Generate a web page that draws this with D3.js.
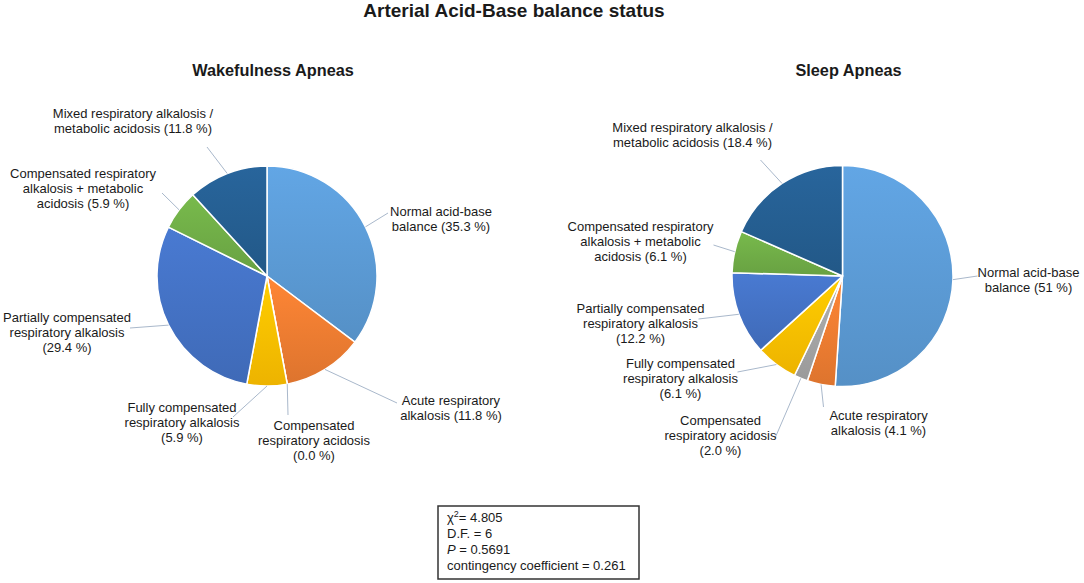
<!DOCTYPE html>
<html>
<head>
<meta charset="utf-8">
<script src="https://cdn.jsdelivr.net/npm/d3@7"></script>
<style>
  body { margin: 0; background: #fff; }
  svg text { font-family: "Liberation Sans", Arial, sans-serif; fill: #1a1a1a; }
</style>
</head>
<body>
<svg id="chart" width="1084" height="583"></svg>
<script>
// categories, clockwise from 12 o'clock
const categories = [
  'Normal acid-base balance',
  'Acute respiratory alkalosis',
  'Compensated respiratory acidosis',
  'Fully compensated respiratory alkalosis',
  'Partially compensated respiratory alkalosis',
  'Compensated respiratory alkalosis + metabolic acidosis',
  'Mixed respiratory alkalosis / metabolic acidosis'
];
const wakeValues = [35.3, 11.8, 0.0, 5.9, 29.4, 5.9, 11.8];
const sleepValues = [51, 4.1, 2.0, 6.1, 12.2, 6.1, 18.4];
const colors = ['#5b9bd5', '#ed7d31', '#a5a5a5', '#ffc000', '#4472c4', '#70ad47', '#255e91'];
const statLines = ['χ', 'D.F. = 6', 'P = 0.5691', 'contingency coefficient = 0.261'];

// label layout: text lines, first-baseline offset and leader end, relative to pie centre
const wakeLabels = [
  { lines: ['Normal acid-base', 'balance (35.3 %)'], dx: 174, dy: -60, lx: 121, ly: -63 },
  { lines: ['Acute respiratory', 'alkalosis (11.8 %)'], dx: 184, dy: 129, lx: 130, ly: 127 },
  { lines: ['Compensated', 'respiratory acidosis', '(0.0 %)'], dx: 47, dy: 154, lx: 21, ly: 139 },
  { lines: ['Fully compensated', 'respiratory alkalosis', '(5.9 %)'], dx: -85, dy: 136, lx: -34, ly: 141 },
  { lines: ['Partially compensated', 'respiratory alkalosis', '(29.4 %)'], dx: -200, dy: 46, lx: -137, ly: 52 },
  { lines: ['Compensated respiratory', 'alkalosis + metabolic', 'acidosis (5.9 %)'], dx: -184, dy: -98, lx: -105, ly: -83 },
  { lines: ['Mixed respiratory alkalosis /', 'metabolic acidosis (11.8 %)'], dx: -134, dy: -158, lx: -60, ly: -129 }
];
const sleepLabels = [
  { lines: ['Normal acid-base', 'balance (51 %)'], dx: 186, dy: 1, lx: 135, ly: 0 },
  { lines: ['Acute respiratory', 'alkalosis (4.1 %)'], dx: 36, dy: 144, lx: -19, ly: 131 },
  { lines: ['Compensated', 'respiratory acidosis', '(2.0 %)'], dx: -122, dy: 149, lx: -67, ly: 161 },
  { lines: ['Fully compensated', 'respiratory alkalosis', '(6.1 %)'], dx: -162, dy: 92, lx: -105, ly: 96 },
  { lines: ['Partially compensated', 'respiratory alkalosis', '(12.2 %)'], dx: -202, dy: 37, lx: -144, ly: 43 },
  { lines: ['Compensated respiratory', 'alkalosis + metabolic', 'acidosis (6.1 %)'], dx: -202, dy: -45, lx: -129, ly: -31 },
  { lines: ['Mixed respiratory alkalosis /', 'metabolic acidosis (18.4 %)'], dx: -150, dy: -144, lx: -82, ly: -116 }
];

const svg = d3.select('#chart');
const defs = svg.append('defs');

// vertical gradients, lighter at top like the Office style
colors.forEach((c, i) => {
  const g = defs.append('linearGradient')
    .attr('id', 'grad' + i)
    .attr('x1', 0).attr('y1', 0).attr('x2', 0).attr('y2', 1);
  g.append('stop').attr('offset', '0%').attr('stop-color', d3.color(c).brighter(0.2));
  g.append('stop').attr('offset', '100%').attr('stop-color', d3.color(c).darker(0.2));
});

svg.append('text')
  .attr('x', 514).attr('y', 17)
  .attr('text-anchor', 'middle')
  .style('font-size', '19px').style('font-weight', 'bold')
  .text('Arterial Acid-Base balance status');

function drawPie(cx, cy, r, title, values, labels) {
  const g = svg.append('g').attr('transform', `translate(${cx},${cy})`);

  g.append('text')
    .attr('x', 6).attr('y', -200)
    .attr('text-anchor', 'middle')
    .style('font-size', '16.3px').style('font-weight', 'bold')
    .text(title);

  const pie = d3.pie().sort(null).value(d => d);
  const arcs = pie(values);
  const arc = d3.arc().innerRadius(0).outerRadius(r);
  const edge = d3.arc().innerRadius(r).outerRadius(r);

  g.selectAll('path.slice')
    .data(arcs)
    .enter()
    .append('path')
    .attr('class', 'slice')
    .attr('d', arc)
    .attr('fill', (d, i) => `url(#grad${i})`)
    .attr('stroke', '#fff')
    .attr('stroke-width', 1.5)
    .attr('stroke-linejoin', 'round');

  // leader lines
  g.selectAll('line.leader')
    .data(arcs)
    .enter()
    .append('line')
    .attr('class', 'leader')
    .attr('x1', d => edge.centroid(d)[0])
    .attr('y1', d => edge.centroid(d)[1])
    .attr('x2', (d, i) => labels[i].lx)
    .attr('y2', (d, i) => labels[i].ly)
    .attr('stroke', '#a9b8cb')
    .attr('stroke-width', 1);

  labels.forEach(lab => {
    const t = g.append('text')
      .attr('text-anchor', 'middle')
      .style('font-size', '13px');
    lab.lines.forEach((line, j) => {
      t.append('tspan')
        .attr('x', lab.dx)
        .attr('y', lab.dy + j * 15)
        .text(line);
    });
  });
}

drawPie(267, 276, 110, 'Wakefulness Apneas', wakeValues, wakeLabels);
drawPie(842.5, 276, 110.5, 'Sleep Apneas', sleepValues, sleepLabels);

// statistics box
const box = svg.append('g').attr('transform', 'translate(438,506)');
box.append('rect')
  .attr('width', 201).attr('height', 73)
  .attr('fill', '#fff')
  .attr('stroke', '#333')
  .attr('stroke-width', 1.5);

const st = box.append('text').style('font-size', '13px');
const l1 = st.append('tspan').attr('x', 9).attr('y', 16);
l1.append('tspan').text(statLines[0]);
l1.append('tspan').attr('dy', -5).style('font-size', '9px').text('2');
l1.append('tspan').attr('dy', 5).text('= 4.805');
st.append('tspan').attr('x', 9).attr('y', 32).text(statLines[1]);
const l3 = st.append('tspan').attr('x', 9).attr('y', 48);
l3.append('tspan').style('font-style', 'italic').text('P');
l3.append('tspan').text(statLines[2].slice(1));
st.append('tspan').attr('x', 9).attr('y', 64).text(statLines[3]);
</script>
</body>
</html>
